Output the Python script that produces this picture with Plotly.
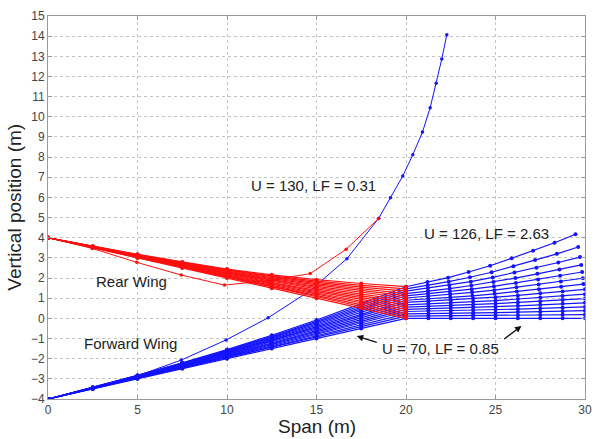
import plotly.graph_objects as go

# ---------------- data ----------------
# inboard span stations (m)
inboard_x = [0, 2.5, 5, 7.5, 10, 12.5, 15, 17.5, 20]

# forward wing vertical positions, one list per case (U = 70 ... 126)
forward_y = [
    [-4, -3.50, -3.00, -2.50, -2.00, -1.50, -1.00, -0.50, 0.00],
    [-4, -3.49, -2.99, -2.48, -1.97, -1.45, -0.93, -0.41, 0.11],
    [-4, -3.49, -2.97, -2.46, -1.94, -1.41, -0.87, -0.32, 0.22],
    [-4, -3.48, -2.96, -2.44, -1.90, -1.36, -0.80, -0.24, 0.34],
    [-4, -3.48, -2.95, -2.41, -1.87, -1.31, -0.74, -0.15, 0.45],
    [-4, -3.47, -2.94, -2.39, -1.84, -1.26, -0.67, -0.06, 0.56],
    [-4, -3.47, -2.92, -2.37, -1.81, -1.22, -0.61, 0.03, 0.67],
    [-4, -3.46, -2.91, -2.35, -1.77, -1.17, -0.54, 0.12, 0.79],
    [-4, -3.45, -2.90, -2.33, -1.74, -1.12, -0.47, 0.20, 0.90],
    [-4, -3.45, -2.88, -2.31, -1.71, -1.08, -0.41, 0.29, 1.01],
    [-4, -3.44, -2.87, -2.29, -1.68, -1.03, -0.34, 0.38, 1.12],
    [-4, -3.44, -2.86, -2.26, -1.65, -0.98, -0.28, 0.47, 1.23],
    [-4, -3.43, -2.85, -2.24, -1.61, -0.93, -0.21, 0.55, 1.35],
    [-4, -3.43, -2.83, -2.22, -1.58, -0.89, -0.15, 0.64, 1.46],
    [-4, -3.42, -2.82, -2.20, -1.55, -0.84, -0.08, 0.73, 1.57],
]

# rear wing vertical positions
rear_y = [
    [4, 3.50, 3.00, 2.50, 2.00, 1.50, 1.00, 0.50, 0.00],
    [4, 3.51, 3.01, 2.52, 2.03, 1.55, 1.07, 0.59, 0.11],
    [4, 3.51, 3.03, 2.54, 2.06, 1.59, 1.13, 0.68, 0.22],
    [4, 3.52, 3.04, 2.56, 2.10, 1.64, 1.20, 0.76, 0.34],
    [4, 3.52, 3.05, 2.59, 2.13, 1.69, 1.26, 0.85, 0.45],
    [4, 3.53, 3.06, 2.61, 2.16, 1.74, 1.33, 0.94, 0.56],
    [4, 3.53, 3.08, 2.63, 2.19, 1.78, 1.39, 1.03, 0.67],
    [4, 3.54, 3.09, 2.65, 2.23, 1.83, 1.46, 1.12, 0.79],
    [4, 3.55, 3.10, 2.67, 2.26, 1.88, 1.53, 1.20, 0.90],
    [4, 3.55, 3.12, 2.69, 2.29, 1.92, 1.59, 1.29, 1.01],
    [4, 3.56, 3.13, 2.71, 2.32, 1.97, 1.66, 1.38, 1.12],
    [4, 3.56, 3.14, 2.74, 2.35, 2.02, 1.72, 1.47, 1.23],
    [4, 3.57, 3.15, 2.76, 2.39, 2.07, 1.79, 1.55, 1.35],
    [4, 3.57, 3.17, 2.78, 2.42, 2.11, 1.85, 1.64, 1.46],
    [4, 3.58, 3.18, 2.80, 2.45, 2.16, 1.92, 1.73, 1.57],
]

# outboard wing span positions
nominal_out_x = [20, 21.25, 22.5, 23.75, 25, 26.25, 27.5, 28.75, 30]
outboard_x = [
    nominal_out_x, nominal_out_x, nominal_out_x, nominal_out_x,
    nominal_out_x, nominal_out_x, nominal_out_x, nominal_out_x,
    [20, 21.24, 22.47, 23.71, 24.95, 26.19, 27.43, 28.67, 29.91],
    [20, 21.24, 22.47, 23.69, 24.93, 26.17, 27.41, 28.65, 29.88],
    [20, 21.23, 22.45, 23.67, 24.91, 26.14, 27.38, 28.61, 29.84],
    [20, 21.23, 22.44, 23.65, 24.88, 26.11, 27.34, 28.57, 29.79],
    [20, 21.22, 22.42, 23.62, 24.84, 26.06, 27.29, 28.51, 29.72],
    [20, 21.21, 22.39, 23.57, 24.78, 26.00, 27.21, 28.43, 29.62],
    [20, 21.20, 22.35, 23.50, 24.70, 25.90, 27.10, 28.30, 29.47],
]

# outboard wing vertical positions
outboard_y = [
    [0.00, 0.00, 0.00, 0.00, 0.00, 0.00, 0.00, 0.00, 0.00],
    [0.11, 0.12, 0.12, 0.13, 0.14, 0.15, 0.17, 0.18, 0.19],
    [0.22, 0.23, 0.25, 0.26, 0.28, 0.31, 0.33, 0.35, 0.38],
    [0.34, 0.36, 0.38, 0.40, 0.43, 0.46, 0.50, 0.53, 0.57],
    [0.45, 0.48, 0.51, 0.54, 0.58, 0.62, 0.67, 0.72, 0.77],
    [0.56, 0.60, 0.63, 0.68, 0.73, 0.79, 0.85, 0.91, 0.98],
    [0.67, 0.72, 0.76, 0.82, 0.88, 0.96, 1.03, 1.11, 1.20],
    [0.79, 0.85, 0.90, 0.97, 1.05, 1.14, 1.24, 1.33, 1.44],
    [0.90, 0.97, 1.04, 1.12, 1.22, 1.33, 1.45, 1.57, 1.70],
    [1.01, 1.10, 1.18, 1.29, 1.40, 1.54, 1.68, 1.83, 1.99],
    [1.12, 1.22, 1.32, 1.45, 1.59, 1.76, 1.93, 2.11, 2.30],
    [1.23, 1.35, 1.48, 1.63, 1.80, 2.00, 2.21, 2.42, 2.65],
    [1.35, 1.50, 1.64, 1.82, 2.03, 2.27, 2.51, 2.77, 3.04],
    [1.46, 1.64, 1.82, 2.04, 2.29, 2.59, 2.89, 3.20, 3.54],
    [1.57, 1.80, 2.02, 2.30, 2.61, 2.98, 3.36, 3.75, 4.17],
]

# U = 130 case (divergent)
u130_fwd_x = [0, 2.5, 4.96, 7.44, 9.95, 12.3, 14.6, 16.7, 18.47]
u130_fwd_y = [-4, -3.42, -2.86, -2.07, -1.07, 0.03, 1.35, 2.96, 4.96]
u130_out_x = [18.47, 19.13, 19.82, 20.38, 20.92, 21.35, 21.69, 22.0, 22.28]
u130_out_y = [4.96, 5.98, 7.06, 8.12, 9.24, 10.45, 11.66, 12.87, 14.07]
u130_rear_x = [0, 2.47, 4.96, 7.44, 9.86, 12.37, 14.65, 16.66, 18.47]
u130_rear_y = [4, 3.47, 2.78, 2.15, 1.65, 1.88, 2.22, 3.43, 4.96]

x_ticks = [0, 5, 10, 15, 20, 25, 30]
y_ticks = list(range(-4, 16))

BLUE = "#1414ff"
RED = "#ff1010"

fig = go.Figure()


def add_line(xs, ys, color, width=1.2, msize=4):
    fig.add_trace(go.Scatter(
        x=xs, y=ys, mode="lines+markers",
        line=dict(color=color, width=width),
        marker=dict(color=color, size=msize),
        showlegend=False, hoverinfo="skip",
    ))


for fy in forward_y:
    add_line(inboard_x, fy, BLUE)
for ox, oy in zip(outboard_x, outboard_y):
    add_line(ox, oy, BLUE)
add_line(u130_fwd_x, u130_fwd_y, BLUE, 1, 3.5)
add_line(u130_out_x, u130_out_y, BLUE, 1, 3.5)
for ry in rear_y:
    add_line(inboard_x, ry, RED)
add_line(u130_rear_x, u130_rear_y, RED, 1, 3.5)

FONT = "Liberation Sans, Arial, sans-serif"
txt = dict(family=FONT, size=15, color="#222222")
title_font = dict(family=FONT, size=19, color="#222222")

annotations = [
    dict(x=14.83, y=6.59, text="U = 130, LF = 0.31", showarrow=False, font=txt),
    dict(x=24.47, y=4.21, text="U = 126, LF = 2.63", showarrow=False, font=txt),
    dict(x=21.95, y=-1.5, text="U = 70, LF = 0.85", showarrow=False, font=txt),
    dict(x=4.64, y=1.83, text="Rear Wing", showarrow=False, font=txt),
    dict(x=4.63, y=-1.24, text="Forward Wing", showarrow=False, font=txt),
    dict(x=17.25, y=-0.88, ax=18.45, ay=-1.22, xref="x", yref="y",
         axref="x", ayref="y", text="", showarrow=True, arrowhead=2,
         arrowsize=1, arrowwidth=1.3, arrowcolor="#111111"),
    dict(x=26.45, y=-0.38, ax=25.4, ay=-1.08, xref="x", yref="y",
         axref="x", ayref="y", text="", showarrow=True, arrowhead=2,
         arrowsize=1, arrowwidth=1.3, arrowcolor="#111111"),
    # axis titles
    dict(xref="paper", yref="paper", x=0.5, y=-0.073, xanchor="center",
         yanchor="middle", text="Span (m)", showarrow=False, font=title_font),
    dict(xref="paper", yref="paper", x=-0.063, y=0.5, xanchor="center",
         yanchor="middle", text="Vertical position (m)", textangle=-90,
         showarrow=False, font=title_font),
]

axis_common = dict(
    showgrid=True, gridcolor="#c4c4c4", griddash="dot", gridwidth=1,
    showline=True, linecolor="#9a9a9a", linewidth=1, mirror="ticks",
    ticks="inside", ticklen=4, tickcolor="#9a9a9a",
    zeroline=False, automargin=False,
    tickfont=dict(family=FONT, size=12, color="#444444"),
)

fig.update_layout(
    width=594, height=439,
    margin=dict(l=48, r=9, t=16, b=40),
    paper_bgcolor="white", plot_bgcolor="white",
    annotations=annotations,
    xaxis=dict(range=[0, 30], tickvals=x_ticks, **axis_common),
    yaxis=dict(range=[-4, 15], tickvals=y_ticks, **axis_common),
)

fig.write_html(
    "out.html",
    config={"displayModeBar": False},
    post_script="document.body.style.margin='0';document.body.style.padding='0';"
                "document.body.style.overflow='hidden';",
)
